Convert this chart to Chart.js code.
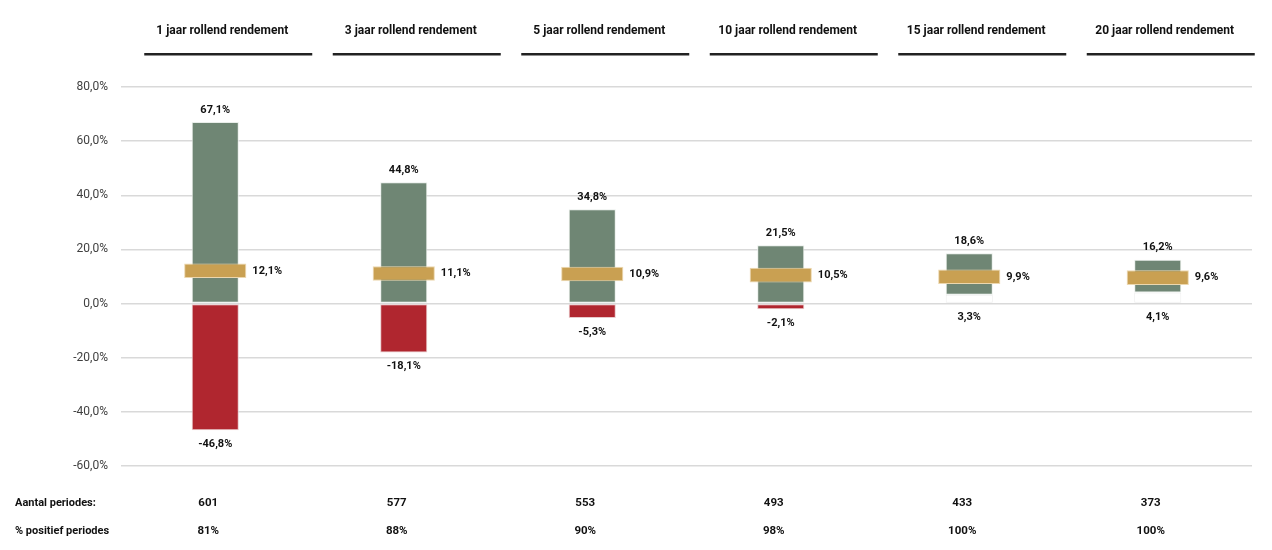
<!DOCTYPE html>
<html lang="nl">
<head>
    <meta charset="UTF-8">
    <title>Rollend rendement</title>
    <script src="https://cdn.jsdelivr.net/npm/chart.js@4.4.1/dist/chart.umd.min.js"></script>
    <style>
        body { margin: 0; background: #fff; }
        #wrap { width: 1272px; height: 550px; }
    </style>
</head>
<body>
<div id="wrap"><canvas id="grafiek"></canvas></div>
<script>
    // data uit de grafiek
    const perioden = ['1 jaar rollend rendement', '3 jaar rollend rendement', '5 jaar rollend rendement',
        '10 jaar rollend rendement', '15 jaar rollend rendement', '20 jaar rollend rendement'];
    const maxRendement = [67.1, 44.8, 34.8, 21.5, 18.6, 16.2];
    const minRendement = [-46.8, -18.1, -5.3, -2.1, 3.3, 4.1];
    const gemRendement = [12.1, 11.1, 10.9, 10.5, 9.9, 9.6];
    const aantalPeriodes = [601, 577, 553, 493, 433, 373];
    const positiefPeriodes = [81, 88, 90, 98, 100, 100];

    const HALF = 2.7; // halve hoogte van de gouden markering (in %)
    const FONT = 'Roboto, "Liberation Sans", sans-serif';

    function pct(v) {
        return v.toFixed(1).replace('.', ',') + '%';
    }

    // teksten: koppen, labels bij de balken, onderste rijen
    const tekstPlugin = {
        id: 'teksten',
        afterDatasetsDraw(chart) {
            const ctx = chart.ctx;
            const x = chart.scales.x;
            const y = chart.scales.y;
            const goud = chart.getDatasetMeta(2).data;
            ctx.save();
            ctx.fillStyle = '#111';
            perioden.forEach((p, i) => {
                const cx = x.getPixelForValue(i);
                // kop + streep
                ctx.font = 'bold 12px ' + FONT;
                ctx.textAlign = 'center';
                ctx.textBaseline = 'middle';
                ctx.fillText(p, cx + 7, 31);
                ctx.fillStyle = '#222';
                ctx.fillRect(cx + 13 - 84, 53, 168, 2.5);
                ctx.fillStyle = '#111';
                // max boven de balk
                ctx.font = 'bold 11px ' + FONT;
                ctx.fillText(pct(maxRendement[i]), cx, y.getPixelForValue(maxRendement[i]) - 12);
                // min onder de balk
                ctx.fillText(pct(minRendement[i]), cx, y.getPixelForValue(Math.min(0, minRendement[i])) + 14);
                // gemiddelde rechts van de markering
                ctx.textAlign = 'left';
                const g = goud[i];
                ctx.fillText(pct(gemRendement[i]), g.x + g.width / 2 + 6, y.getPixelForValue(gemRendement[i]));
                // onderste rijen
                ctx.textAlign = 'center';
                ctx.font = 'bold 11.5px ' + FONT;
                ctx.fillText(String(aantalPeriodes[i]), cx - 7, 503);
                ctx.fillText(positiefPeriodes[i] + '%', cx - 7, 531);
            });
            ctx.textAlign = 'left';
            ctx.font = 'bold 11px ' + FONT;
            ctx.fillText('Aantal periodes:', 15, 503);
            ctx.fillText('% positief periodes', 15, 531);
            ctx.restore();
        }
    };

    const ctx = document.getElementById('grafiek').getContext('2d');
    const grafiek = new Chart(ctx, {
        type: 'bar',
        data: {
            labels: perioden,
            datasets: [
                {
                    // positief deel: van max(0, min) tot max
                    data: perioden.map((p, i) => [Math.max(0, minRendement[i]), maxRendement[i]]),
                    backgroundColor: '#6f8674',
                    borderColor: '#e9eeea',
                    borderWidth: 1,
                    borderSkipped: false,
                    barPercentage: 0.25,
                    categoryPercentage: 1,
                    grouped: false,
                    order: 1
                },
                {
                    // negatief deel (rood) of leeg stuk tot 0 (wit)
                    data: perioden.map((p, i) => [minRendement[i], 0]),
                    backgroundColor: minRendement.map(v => v < 0 ? '#b0262f' : '#ffffff'),
                    borderColor: minRendement.map(v => v < 0 ? '#e8c9cb' : '#eeeeee'),
                    borderWidth: 1,
                    borderSkipped: false,
                    barPercentage: 0.25,
                    categoryPercentage: 1,
                    grouped: false,
                    order: 1
                },
                {
                    // gemiddelde
                    data: gemRendement.map(v => [v - HALF, v + HALF]),
                    backgroundColor: '#c9a052',
                    borderColor: '#ecd7ae',
                    borderWidth: 1,
                    borderSkipped: false,
                    barPercentage: 0.33,
                    categoryPercentage: 1,
                    grouped: false,
                    order: 0
                }
            ]
        },
        options: {
            responsive: true,
            maintainAspectRatio: false,
            animation: false,
            layout: { padding: { top: 87, bottom: 84, right: 20, left: 0 } },
            plugins: {
                legend: { display: false },
                tooltip: { enabled: false }
            },
            scales: {
                x: { display: false, offset: true },
                y: {
                    min: -60,
                    max: 80,
                    ticks: {
                        stepSize: 20,
                        padding: 13,
                        color: '#404040',
                        font: { family: FONT, size: 12 },
                        callback: v => pct(v)
                    },
                    grid: { color: '#d9d9d9', lineWidth: 1.5, drawTicks: false },
                    border: { display: false },
                    afterFit(scale) { scale.width = 121; }
                }
            }
        },
        plugins: [tekstPlugin]
    });
</script>
</body>
</html>
